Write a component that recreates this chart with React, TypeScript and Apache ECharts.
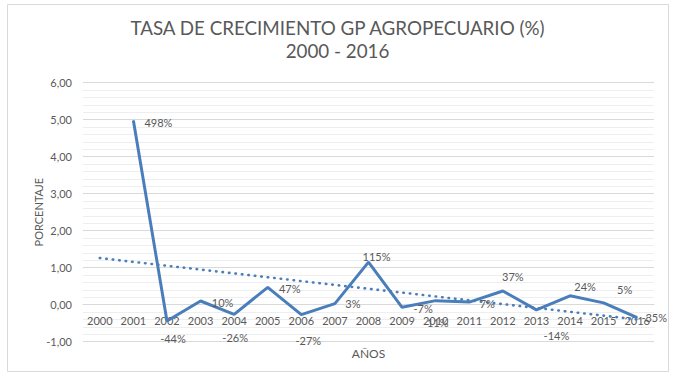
import React, { useEffect, useRef } from "react";
import * as echarts from "echarts";

const years = ["2000","2001","2002","2003","2004","2005","2006","2007","2008","2009","2010","2011","2012","2013","2014","2015","2016"];
const growth: (number | null)[] = [null, 4.98, -0.44, 0.10, -0.26, 0.47, -0.27, 0.03, 1.15, -0.07, 0.11, 0.07, 0.37, -0.14, 0.24, 0.05, -0.35];
const trendYears = ["2000", "2016"];
const trendValues = [1.26, -0.40];
const yTicks = { min: -1, max: 6, step: 1 };

// label placement (style only): [dx, dy] from the point
const labelOffsets: [number, number][] = [
  [0, 0], [25, 2], [6, 18], [22, 1], [1, 23], [22, 1], [7, 26], [18, 0], [8, -6],
  [21, 1], [2, 22], [18, 1], [10, -15], [20, 26], [15, -9], [21, -13], [17, 0],
];

const BLUE = "#4a7ebb";
const TXT = "#595959";
const FONT = "Lato, 'Open Sans', sans-serif";

export default function App() {
  const ref = useRef<HTMLDivElement>(null);
  useEffect(() => {
    if (!ref.current) return;
    const chart = echarts.init(ref.current, undefined, { renderer: "svg" });
    const mainData = growth.map((v, i) =>
      v === null
        ? "-"
        : {
            value: v,
            label: {
              show: true,
              position: "inside",
              offset: labelOffsets[i],
              formatter: () => Math.round(v * 100) + "%",
            },
          }
    );
    chart.setOption({
      animation: false,
      textStyle: { fontFamily: FONT },
      title: {
        text: "TASA DE CRECIMIENTO GP AGROPECUARIO (%)\n2000 - 2016",
        left: "center",
        top: 11,
        textStyle: { fontFamily: FONT, fontSize: 18.8, fontWeight: "normal", color: TXT, lineHeight: 23 },
      },
      graphic: [
        {
          type: "rect",
          shape: { x: 7.5, y: 4.5, width: 661, height: 367 },
          style: { fill: "none", stroke: "#d9d9d9", lineWidth: 1 },
          silent: true,
          z: -10,
        },
      ],
      grid: { left: 83, right: 21, top: 82.7, bottom: 42.3, containLabel: false, outerBoundsMode: "none" },
      xAxis: {
        type: "category",
        data: years,
        boundaryGap: true,
        offset: -37,
        name: "AÑOS",
        nameLocation: "middle",
        nameGap: 43,
        nameMoveOverlap: false,
        nameTextStyle: { fontFamily: FONT, fontSize: 12, color: TXT },
        axisLine: { show: true, onZero: false, lineStyle: { color: "#d9d9d9", width: 1 } },
        axisTick: { show: false },
        axisLabel: { fontFamily: FONT, fontSize: 11, color: TXT, margin: 10, interval: 0 },
        splitLine: { show: false },
      },
      yAxis: {
        type: "value",
        min: yTicks.min,
        max: yTicks.max,
        interval: yTicks.step,
        name: "PORCENTAJE",
        nameLocation: "middle",
        nameGap: 39,
        nameMoveOverlap: false,
        nameRotate: 90,
        nameTextStyle: { fontFamily: FONT, fontSize: 11, color: TXT },
        axisLine: { show: false },
        axisTick: { show: false },
        axisLabel: {
          fontFamily: FONT,
          fontSize: 11,
          color: TXT,
          margin: 11,
          formatter: (v: number) => v.toFixed(2).replace(".", ","),
        },
        splitLine: { show: true, lineStyle: { color: "#d9d9d9", width: 1 } },
        minorTick: { show: false, splitNumber: 5 },
        minorSplitLine: { show: true, lineStyle: { color: "#eeeeee", width: 1 } },
      },
      series: [
        {
          type: "line",
          data: trendYears.map((y, i) => [y, trendValues[i]]),
          symbol: "none",
          lineStyle: { color: BLUE, width: 2.6, type: [0.5, 6], cap: "round" },
          silent: true,
          z: 2,
        },
        {
          type: "line",
          data: mainData,
          symbol: "circle",
          symbolSize: 1,
          showSymbol: true,
          itemStyle: { color: BLUE },
          lineStyle: { color: BLUE, width: 3 },
          label: { fontFamily: FONT, fontSize: 11, color: TXT },
          z: 3,
        },
      ],
    });
    return () => chart.dispose();
  }, []);
  return (
    <div
      ref={ref}
      style={{ position: "fixed", left: 0, top: 0, width: 675, height: 384, background: "#fff" }}
    />
  );
}
